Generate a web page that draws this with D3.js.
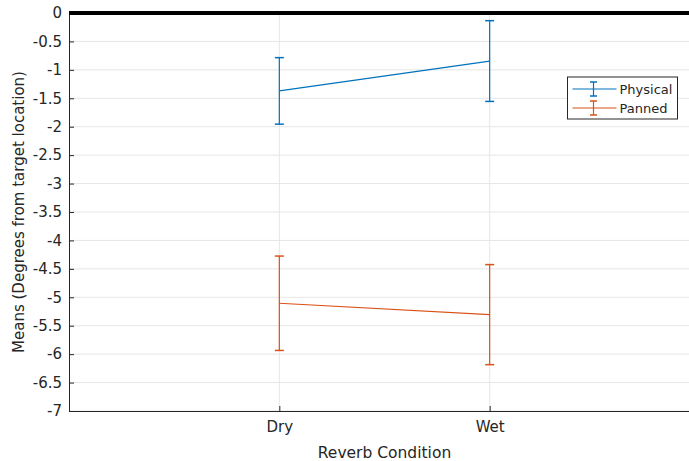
<!DOCTYPE html>
<html>
<head>
<meta charset="utf-8">
<script src="https://cdn.jsdelivr.net/npm/d3@7"></script>
<style>
  body { margin: 0; background: #fff; }
  text { font-family: "DejaVu Sans", "Liberation Sans", sans-serif; fill: #262626; }
</style>
</head>
<body>
<div id="chart"></div>
<script>
const categories = ["Dry", "Wet"];
const seriesNames = ["Physical", "Panned"];
const seriesColors = ["#0072BD", "#D95319"];
const physicalMeans = [-1.37, -0.845];
const physicalErr = [0.585, 0.71];
const pannedMeans = [-5.105, -5.305];
const pannedErr = [0.83, 0.88];
const yTicks = [0, -0.5, -1, -1.5, -2, -2.5, -3, -3.5, -4, -4.5, -5, -5.5, -6, -6.5, -7];

const width = 689, height = 461;
const margin = { top: 13, right: -11, bottom: 50, left: 69 };

const svg = d3.select("#chart")
  .append("svg")
  .attr("width", width)
  .attr("height", height);

const x = d3.scaleLinear()
  .domain([0, categories.length + 1])
  .range([margin.left, width - margin.right]);

const y = d3.scaleLinear()
  .domain([-7, 0])
  .range([height - margin.bottom, margin.top]);

// grid
svg.append("g")
  .selectAll("line")
  .data(yTicks)
  .enter()
  .append("line")
  .attr("x1", margin.left)
  .attr("x2", width)
  .attr("y1", d => y(d))
  .attr("y2", d => y(d))
  .style("stroke", "#e6e6e6")
  .style("stroke-width", 1);

svg.append("g")
  .selectAll("line")
  .data(categories)
  .enter()
  .append("line")
  .attr("x1", (d, i) => x(i + 1))
  .attr("x2", (d, i) => x(i + 1))
  .attr("y1", y(0))
  .attr("y2", y(-7))
  .style("stroke", "#e6e6e6")
  .style("stroke-width", 1);

// y axis
const yAxis = svg.append("g")
  .attr("transform", `translate(${margin.left},0)`)
  .call(d3.axisLeft(y).tickValues(yTicks).tickSize(-5).tickPadding(7).tickFormat(d => d))
yAxis.select(".domain").style("stroke", "#262626");
yAxis.selectAll(".tick line").style("stroke", "#262626");
yAxis.selectAll("text").style("font-size", "15px").style("fill", "#262626");

// x axis
const xAxis = svg.append("g")
  .attr("transform", `translate(0,${y(-7)})`)
  .call(d3.axisBottom(x).tickValues([1, 2]).tickSize(-5).tickPadding(10).tickFormat(d => categories[d - 1]))
xAxis.select(".domain").style("stroke", "#262626");
xAxis.selectAll(".tick line").style("stroke", "#262626");
xAxis.selectAll("text").style("font-size", "15px").style("fill", "#262626");

// zero line
svg.append("line")
  .attr("x1", margin.left)
  .attr("x2", width)
  .attr("y1", y(0))
  .attr("y2", y(0))
  .style("stroke", "#000")
  .style("stroke-width", 4);

// series
const series = [
  { name: seriesNames[0], color: seriesColors[0], means: physicalMeans, err: physicalErr },
  { name: seriesNames[1], color: seriesColors[1], means: pannedMeans, err: pannedErr }
];

const line = d3.line()
  .x((d, i) => x(i + 1))
  .y(d => y(d));

series.forEach(s => {
  const g = svg.append("g");
  g.append("path")
    .datum(s.means)
    .attr("d", line)
    .style("fill", "none")
    .style("stroke", s.color)
    .style("stroke-width", 1.2);

  s.means.forEach((m, i) => {
    const cx = x(i + 1);
    const top = y(m + s.err[i]);
    const bot = y(m - s.err[i]);
    g.append("line").attr("x1", cx).attr("x2", cx).attr("y1", top).attr("y2", bot)
      .style("stroke", s.color).style("stroke-width", 1.2);
    [top, bot].forEach(yy => {
      g.append("line").attr("x1", cx - 4.5).attr("x2", cx + 4.5).attr("y1", yy).attr("y2", yy)
        .style("stroke", s.color).style("stroke-width", 1.5);
    });
  });
});

// axis labels
svg.append("text")
  .attr("x", (margin.left + width - margin.right) / 2)
  .attr("y", 458)
  .attr("text-anchor", "middle")
  .style("font-size", "15.5px")
  .text("Reverb Condition");

svg.append("text")
  .attr("transform", `translate(24,${(y(0) + y(-7)) / 2}) rotate(-90)`)
  .attr("text-anchor", "middle")
  .style("font-size", "15px")
  .text("Means (Degrees from target location)");

// legend
const legend = svg.append("g").attr("transform", "translate(567.5,77)");
legend.append("rect")
  .attr("width", 110)
  .attr("height", 42)
  .style("fill", "#fff")
  .style("stroke", "#262626")
  .style("stroke-width", 1);

series.forEach((s, i) => {
  const ly = 12 + i * 19;
  legend.append("line").attr("x1", 5).attr("x2", 49).attr("y1", ly).attr("y2", ly)
    .style("stroke", s.color).style("stroke-width", 1.2);
  legend.append("line").attr("x1", 26).attr("x2", 26).attr("y1", ly - 7).attr("y2", ly + 7)
    .style("stroke", s.color).style("stroke-width", 1.2);
  [ly - 7, ly + 7].forEach(yy => {
    legend.append("line").attr("x1", 22.5).attr("x2", 29.5).attr("y1", yy).attr("y2", yy)
      .style("stroke", s.color).style("stroke-width", 1.5);
  });
  legend.append("text")
    .attr("x", 52)
    .attr("y", ly + 5)
    .style("font-size", "13px")
    .text(s.name);
});
</script>
</body>
</html>
